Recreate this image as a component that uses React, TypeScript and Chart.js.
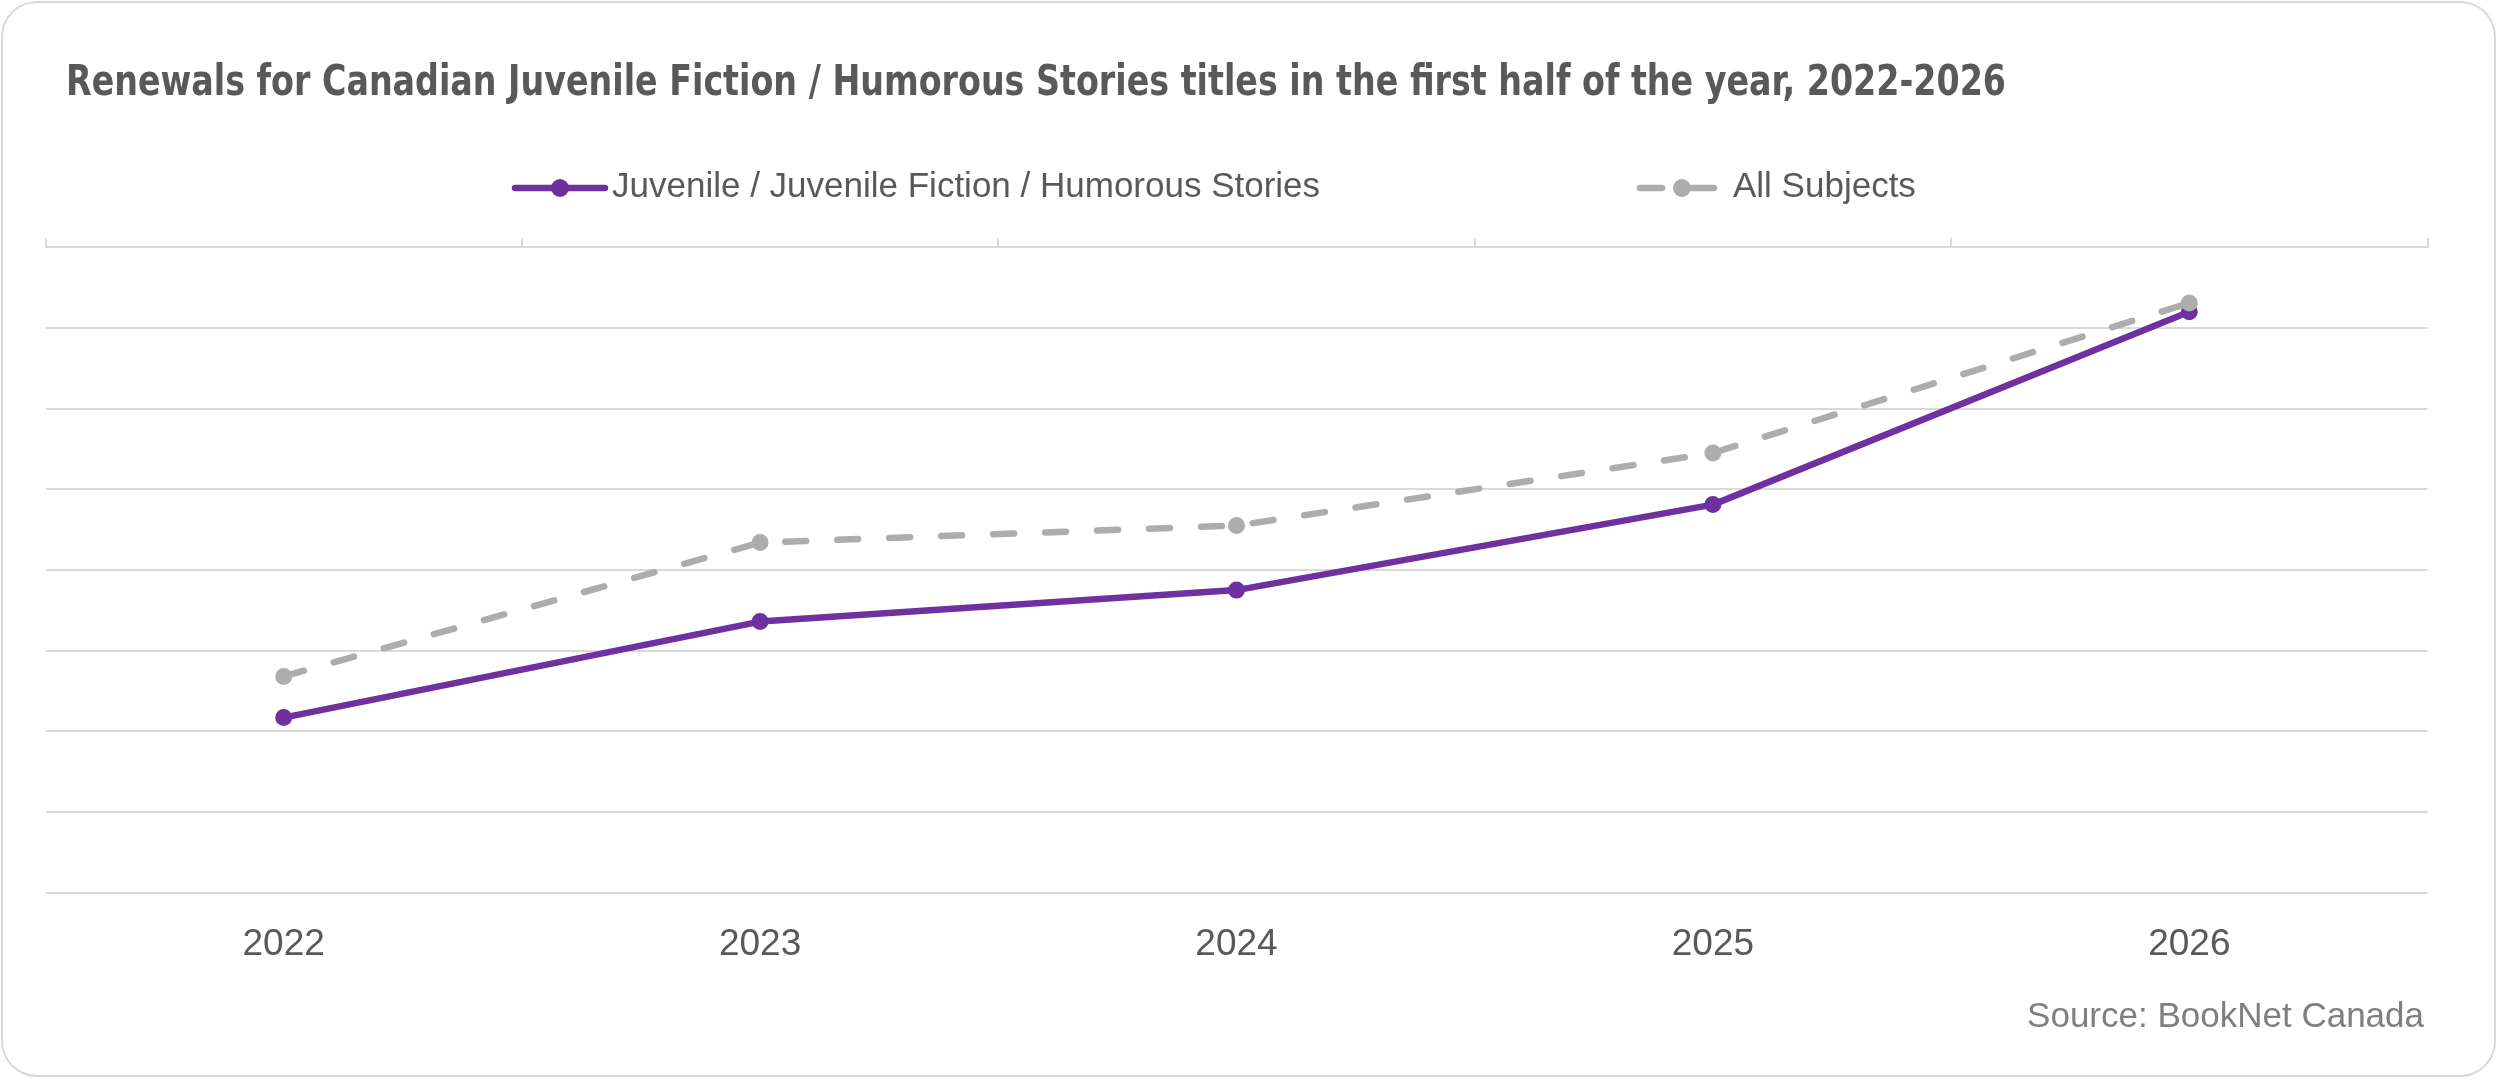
import React, { useEffect, useRef } from 'react'
import { Chart, registerables } from 'chart.js'

Chart.register(...registerables)

// values (the value axis carries no labels, so it is an 0..8 grid of 8 bands)
const years = ['2022', '2023', '2024', '2025', '2026']
const humorousStories = [2.17, 3.36, 3.75, 4.81, 7.2]
const allSubjects = [2.68, 4.34, 4.55, 5.45, 7.31]
const yMin = 0
const yMax = 8
const yStep = 1

const TITLE = 'Renewals for Canadian Juvenile Fiction / Humorous Stories titles in the first half of the year, 2022-2026'
const SERIES = ['Juvenile / Juvenile Fiction / Humorous Stories', 'All Subjects']
const SOURCE = 'Source: BookNet Canada'

const W = 2500
const H = 1081
const PURPLE = '#7030A0'
const GREY = '#ADADAD'
const TEXT = '#595959'
const SOURCE_TEXT = '#7F7F7F'
const GRID = '#D9D9D9'
const FONT = '"Liberation Sans", Arial, sans-serif'
const TITLE_FONT = '"Liberation Sans Narrow", "DejaVu Sans Condensed", "Liberation Sans", sans-serif'

export default function App() {
  const canvasRef = useRef<HTMLCanvasElement>(null)
  const chartRef = useRef<Chart | null>(null)

  useEffect(() => {
    document.body.style.margin = '0'
    if (chartRef.current) { chartRef.current.destroy(); chartRef.current = null }
    if (!canvasRef.current) return
    const ctx = canvasRef.current.getContext('2d')
    if (!ctx) return

    chartRef.current = new Chart(ctx, {
      type: 'line',
      data: {
        labels: years,
        datasets: [
          {
            label: SERIES[0],
            data: humorousStories,
            borderColor: PURPLE,
            backgroundColor: PURPLE,
            borderWidth: 6.5,
            borderCapStyle: 'round',
            borderJoinStyle: 'round',
            pointRadius: 7.5,
            pointBorderWidth: 2,
            pointBackgroundColor: PURPLE,
            pointBorderColor: PURPLE,
            tension: 0,
            order: 1,
          },
          {
            label: SERIES[1],
            data: allSubjects,
            borderColor: GREY,
            backgroundColor: GREY,
            borderWidth: 6.5,
            borderDash: [21, 31],
            borderCapStyle: 'round',
            borderJoinStyle: 'round',
            pointRadius: 7.5,
            pointBorderWidth: 2,
            pointBackgroundColor: GREY,
            pointBorderColor: GREY,
            tension: 0,
            order: 0,
          },
        ],
      },
      options: {
        responsive: true,
        maintainAspectRatio: false,
        animation: false,
        events: [],
        layout: { padding: { top: 238.3, left: 45.5, right: 72.5, bottom: 84 } },
        plugins: {
          legend: { display: false },
          title: { display: false },
          tooltip: { enabled: false },
        },
        scales: {
          x: {
            type: 'category',
            position: 'bottom',
            offset: true,
            grid: { display: false, drawTicks: false },
            border: { display: false },
            ticks: { color: TEXT, font: { family: FONT, size: 37 }, padding: 30, maxRotation: 0, autoSkip: false },
          },
          xTop: {
            type: 'category',
            position: 'top',
            offset: true,
            grid: { display: true, offset: true, drawOnChartArea: false, drawTicks: true, tickLength: 9, color: GRID, lineWidth: 2 },
            border: { display: true, color: GRID, width: 2 },
            ticks: { display: false },
          },
          y: {
            min: yMin,
            max: yMax,
            ticks: { stepSize: yStep, display: false },
            grid: { color: GRID, lineWidth: 2, drawTicks: false },
            border: { display: false },
          },
        },
      },
    })

    return () => { if (chartRef.current) { chartRef.current.destroy(); chartRef.current = null } }
  }, [])

  return (
    <div style={{ position: 'fixed', left: 0, top: 0, width: W, height: H, background: '#fff', overflow: 'hidden' }}>
      <div style={{ position: 'absolute', left: 1, top: 1, width: 2495, height: 1076, boxSizing: 'border-box', border: `2px solid ${GRID}`, borderRadius: 36 }} />
      <div style={{ position: 'absolute', left: 0, top: 0, width: W, height: H }}>
        <canvas ref={canvasRef} />
      </div>
      <svg width={W} height={H} style={{ position: 'absolute', left: 0, top: 0, pointerEvents: 'none' }}>
        <text x={66} y={95} fontFamily={TITLE_FONT} fontWeight={700} fontSize={42} fill={TEXT} textLength={1940} lengthAdjust="spacingAndGlyphs">{TITLE}</text>

        <line x1={515} y1={188} x2={605} y2={188} stroke={PURPLE} strokeWidth={6.5} strokeLinecap="round" />
        <circle cx={560} cy={188} r={9} fill={PURPLE} />
        <text x={612} y={197} fontFamily={FONT} fontSize={35} fill={TEXT}>{SERIES[0]}</text>

        <line x1={1640} y1={188} x2={1714} y2={188} stroke={GREY} strokeWidth={6.5} strokeLinecap="round" strokeDasharray="22 30" />
        <circle cx={1682} cy={188} r={9} fill={GREY} />
        <text x={1733} y={197} fontFamily={FONT} fontSize={35} fill={TEXT}>{SERIES[1]}</text>

        <text x={2424} y={1027} textAnchor="end" fontFamily={FONT} fontSize={35} fill={SOURCE_TEXT}>{SOURCE}</text>
      </svg>
    </div>
  )
}
